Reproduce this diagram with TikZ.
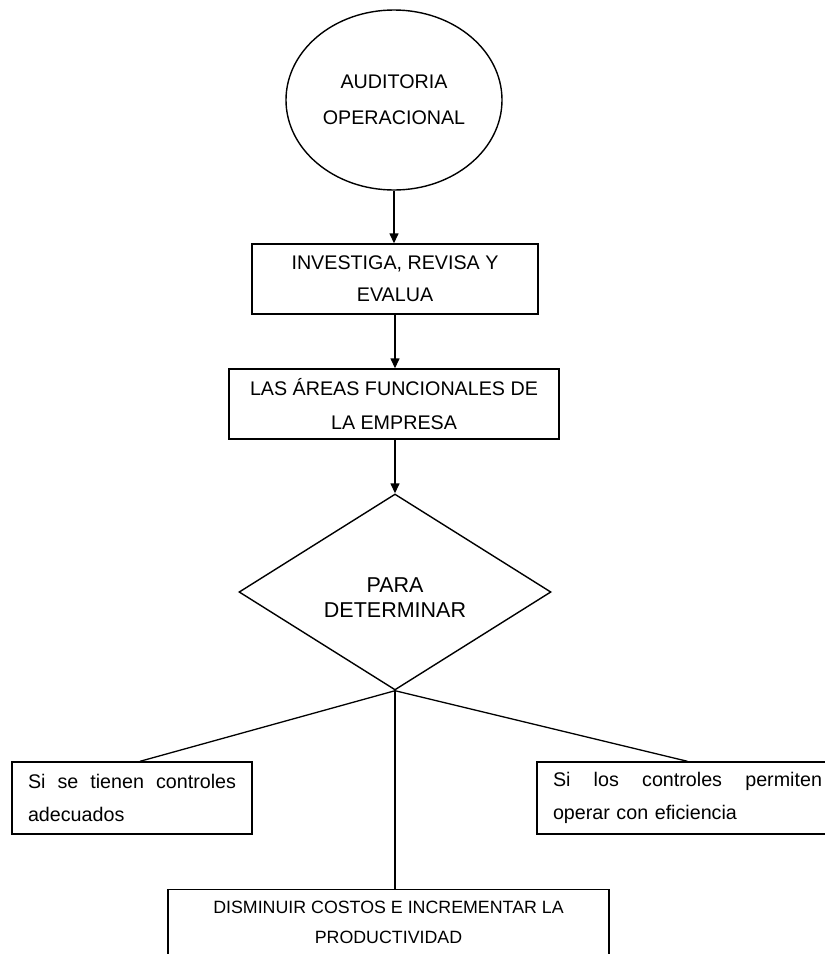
\documentclass[tikz,border=0pt]{standalone}
\usepackage{fontspec}
\setmainfont{Liberation Sans}
\usetikzlibrary{shapes.geometric,arrows.meta}
\begin{document}
\begin{tikzpicture}[x=1pt,y=-1pt,
  shp/.style={draw=black, line width=1.4pt, inner sep=0pt, align=center},
  boxB/.style={shp, rectangle, minimum height=70pt},
  txtA/.style={font=\fontsize{19.7}{#1}\selectfont},
  arr/.style={draw=black, line width=1.4pt, -{Triangle[length=10pt,width=9pt]}},
  lnk/.style={draw=black, line width=1.3pt}]
\path[use as bounding box] (0,0) rectangle (825,954);

\node[shp, ellipse, minimum width=216pt, minimum height=180pt, txtA=36] (E) at (394,100) {AUDITORIA\\OPERACIONAL};
\node[boxB, minimum width=286pt, txtA=32] (I) at (395,279) {INVESTIGA, REVISA Y\\EVALUA};
\node[boxB, minimum width=330pt, txtA=34] (A) at (394,404) {LAS ÁREAS FUNCIONALES DE\\LA EMPRESA};
\node[shp, diamond, minimum width=312pt, minimum height=196pt] (D) at (395,592) {};
\node[align=center, inner sep=0pt, font=\fontsize{21.5}{25}\selectfont] (Dt) at (395,598) {PARA\\DETERMINAR};

\node[shp, rectangle, minimum width=240pt, minimum height=72pt, text width=208pt, align=left, txtA=33] (L) at (132,798)
  {\hbox to 208pt{Si\hfill se\hfill tienen\hfill controles}\\adecuados};
\node[shp, rectangle, minimum width=301pt, minimum height=72pt, text width=269pt, align=left, txtA=33] (R) at (687.5,798)
  {\hbox to 269pt{Si\hfill los\hfill controles\hfill permiten}\\operar con eficiencia};

\node[shp, rectangle, anchor=north, minimum width=441pt, minimum height=101pt] (B) at (388.5,889) {};
\node[align=center, inner sep=0pt, font=\fontsize{17.8}{30}\selectfont] (Bt) at (388.5,922) {DISMINUIR COSTOS E INCREMENTAR LA\\PRODUCTIVIDAD};

\draw[arr] (E.south) -- (E.south |- I.north);
\draw[arr] (I.south) -- (I.south |- A.north);
\draw[arr] (A.south -| D.north) -- (D.north);
\draw[lnk] (D.south) -- ([xshift=8pt]L.north);
\draw[lnk] (D.south) -- (R.north);
\draw[lnk] (D.south) -- (D.south |- B.north);
\end{tikzpicture}
\end{document}
